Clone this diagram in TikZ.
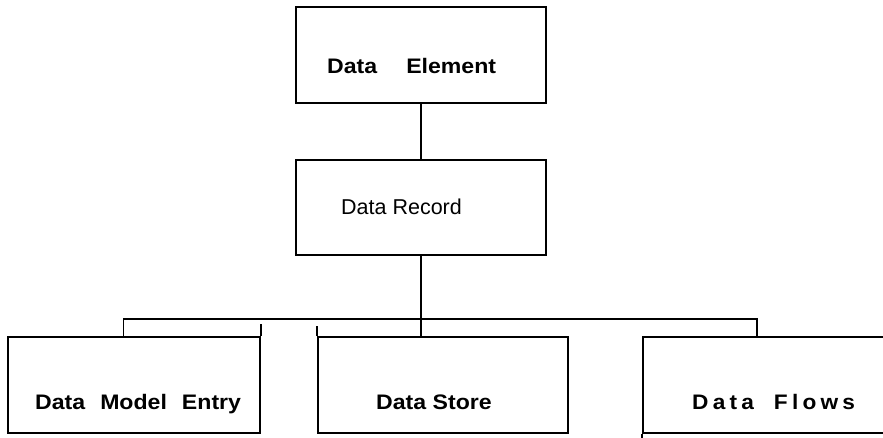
\documentclass[tikz,border=0pt]{standalone}
\usepackage{fontspec}
\setmainfont{Liberation Sans}
\newfontfamily\boxfont[FakeStretch=1.1]{Liberation Sans}
\newfontfamily\flowfont[FakeStretch=1.08,LetterSpace=20]{Liberation Sans}

\tikzset{
  box/.style={draw, line width=2pt, inner sep=0pt},
  lbl/.style={inner sep=0pt, anchor=base west, font=\boxfont\bfseries\fontsize{21}{25}\selectfont},
  conn/.style={line width=1.5pt},
  thinconn/.style={line width=0.9pt}
}

\begin{document}
\begin{tikzpicture}[x=1pt,y=-1pt]
\useasboundingbox (0,0) rectangle (883,438);

% boxes
\node[box, minimum width=250, minimum height=96] (elem) at (421,55) {};
\node[box, minimum width=250, minimum height=95] (rec) at (421,207.5) {};
\node[box, minimum width=252, minimum height=96] (dme) at (134,385) {};
\node[box, minimum width=250, minimum height=96] (store) at (443,385) {};
\node[box, minimum width=262, minimum height=96] (flows) at (774,385) {};

% labels
\node[lbl] (elemL) at (327,74) {Data\hspace{29pt}Element};
\node[lbl, font=\fontsize{21.5}{25}\selectfont] (recL) at (341,215) {Data Record};
\node[lbl] (dmeL) at (35,409) {Data\hspace{15pt}Model\hspace{15pt}Entry};
\node[lbl] (storeL) at (376,409) {Data Store};
\node[lbl, font=\flowfont\bfseries\fontsize{21}{25}\selectfont] (flowsL) at (692,409) {Data\hspace{20pt}Flows};

% connectors
\draw[conn] (elem.south) -- (rec.north);
\draw[conn] (rec.south) -- (rec.south |- store.north);
\coordinate (busL) at (123,319);
\coordinate (busR) at (757,319);
\draw[conn] (busL) -- (busR) -- (busR |- flows.north);
\draw[thinconn] (busL) -- (busL |- dme.north);

% stray edge ends
\draw[line width=2pt] (dme.north east) -- ++(0,-12);
\draw[line width=2pt] (store.north west) -- ++(0,-10);
\draw[line width=2pt] (flows.south west) -- ++(0,5);
\end{tikzpicture}
\end{document}
